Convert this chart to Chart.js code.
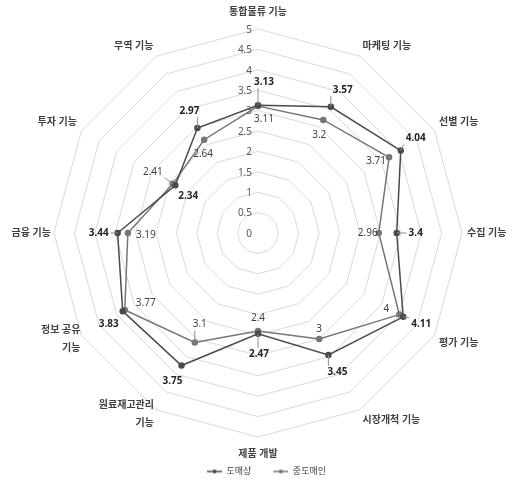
<!DOCTYPE html>
<html><head><meta charset="utf-8">
<script src="https://cdn.jsdelivr.net/npm/chart.js@4"></script>
<style>html,body{margin:0;padding:0;background:#fff}#wrap{width:513px;height:481px;position:relative}</style>
</head><body><div id="wrap"><canvas id="c"></canvas></div>
<script>
const categories = ['통합물류 기능','마케팅 기능','선별 기능','수집 기능','평가 기능','시장개척 기능','제품 개발',['원료재고관리','기능'],['정보 공유','기능'],'금융 기능','투자 기능','무역 기능'];
const seriesNames = ['도매상','중도매인'];
const wholesaler = [3.13,3.57,4.04,3.4,4.11,3.45,2.47,3.75,3.83,3.44,2.34,2.97];
const middleman = [3.11,3.2,3.71,2.96,4,3,2.4,3.1,3.77,3.19,2.41,2.64];
const tickValues = [0,0.5,1,1.5,2,2.5,3,3.5,4,4.5,5];
const tickLabels = ['0','0.5','1','1.5','2','2.5','3','3.5','4','4.5','5'];

// value-label placement (pixel offsets from each point) and leader-line flags
const offA = [[6,-23],[12,-17],[15,-12],[19,0],[18,7],[9,17],[1,20],[-9,16],[-14,13],[-19,0],[13,11],[-8,-17]];
const leadA = [1,1,1,1,1,1,1,0,0,1,0,1];
const offB = [[6,13],[-4,15],[-13,4],[-11,0],[-13,-5],[0,-10],[0,-13],[5,-18],[21,-7],[18,2],[-20,-12],[-1,14]];
const leadB = [0,0,1,0,0,0,0,1,0,0,1,0];
const labelPad = [11,5,5,5,5,5,11,5,5,3,5,5];
// two-line category labels drawn right-aligned beside their vertex: [index, dx, dy]
const wrapLabels = [[7,-2,4],[8,-1,4]];

const colA = '#4a4a4a', colB = '#767676';
const FONT = "'Noto Sans', 'Noto Sans CJK KR', sans-serif";

function marker(color){
  const c = document.createElement('canvas'); c.width = 30; c.height = 6;
  const x = c.getContext('2d');
  x.strokeStyle = color; x.lineWidth = 1.5;
  x.beginPath(); x.moveTo(15,3); x.lineTo(30,3); x.stroke();
  x.fillStyle = color; x.beginPath(); x.arc(22.5,3,2,0,Math.PI*2); x.fill();
  return c;
}
const markers = [marker(colA), marker(colB)];

const tickPlugin = {
  id: 'tickText',
  afterDatasetsDraw(chart){
    const s = chart.scales.r, ctx = chart.ctx;
    ctx.save();
    ctx.font = '10px ' + FONT; ctx.fillStyle = '#595959';
    ctx.textAlign = 'right'; ctx.textBaseline = 'middle';
    tickValues.forEach((v,i)=>{
      const d = s.getDistanceFromCenterForValue(v);
      ctx.fillText(tickLabels[i], s.xCenter - 6, s.yCenter - d + 1);
    });
    // wrapped category labels
    ctx.font = 'bold 10px ' + FONT; ctx.fillStyle = '#404040';
    wrapLabels.forEach(([idx, dx, dy])=>{
      const p = s.getPointPosition(idx, s.drawingArea);
      const lines = categories[idx];
      const lh = 18;
      lines.forEach((t, k)=>{
        ctx.fillText(t, p.x + dx, p.y + dy + (k - (lines.length - 1)/2) * lh);
      });
    });
    ctx.restore();
  }
};

const valuePlugin = {
  id: 'valueText',
  afterDatasetsDraw(chart){
    const ctx = chart.ctx;
    const cfgs = [[offA, leadA, 'bold', '#262626'], [offB, leadB, 'normal', '#404040']];
    chart.data.datasets.forEach((ds, di)=>{
      const meta = chart.getDatasetMeta(di);
      const [offs, leads, weight, color] = cfgs[di];
      meta.data.forEach((pt, i)=>{
        const txt = String(ds.data[i]);
        const lx = pt.x + offs[i][0], ly = pt.y + offs[i][1];
        ctx.save();
        ctx.font = weight + ' 10px ' + FONT;
        const w = ctx.measureText(txt).width, h = 10;
        if (leads[i]) {
          const nx = Math.max(lx - w/2 - 2, Math.min(pt.x, lx + w/2 + 2));
          const ny = Math.max(ly - h/2 - 1, Math.min(pt.y, ly + h/2 + 1));
          ctx.strokeStyle = '#8c8c8c'; ctx.lineWidth = 1;
          ctx.beginPath(); ctx.moveTo(pt.x, pt.y); ctx.lineTo(nx, ny); ctx.stroke();
        }
        ctx.fillStyle = color; ctx.textAlign = 'center'; ctx.textBaseline = 'middle';
        ctx.fillText(txt, lx, ly);
        ctx.restore();
      });
    });
  }
};

new Chart(document.getElementById('c'), {
  type: 'radar',
  data: {
    labels: categories,
    datasets: [
      {label: seriesNames[0], data: wholesaler, borderColor: colA, backgroundColor: colA, pointBackgroundColor: colA, pointBorderColor: colA, borderWidth: 1.5, pointRadius: 2.5, fill: false},
      {label: seriesNames[1], data: middleman, borderColor: colB, backgroundColor: colB, pointBackgroundColor: colB, pointBorderColor: colB, borderWidth: 1.5, pointRadius: 2.5, fill: false}
    ]
  },
  options: {
    responsive: true, maintainAspectRatio: false, animation: false,
    layout: {padding: {top: 6, left: 5, right: 0, bottom: -5}},
    plugins: {
      tooltip: {enabled: false},
      legend: {
        position: 'bottom',
        labels: {
          usePointStyle: true, pointStyleWidth: 30, boxHeight: 6, padding: 7,
          color: '#404040', font: {size: 9, family: FONT},
          generateLabels(chart){
            const items = Chart.defaults.plugins.legend.labels.generateLabels(chart);
            items.forEach((it,i)=>{ it.pointStyle = markers[i]; });
            return items;
          }
        }
      }
    },
    scales: {
      r: {
        min: 0, max: 5,
        ticks: {display: false, stepSize: 0.5},
        grid: {color: '#d9d9d9', lineWidth: 1},
        angleLines: {display: false},
        pointLabels: {
          color: (ctx)=> (ctx.index===7||ctx.index===8) ? 'rgba(0,0,0,0)' : '#404040',
          font: (ctx)=>({size: 10, weight: 'bold', family: FONT, lineHeight: (ctx.index===7||ctx.index===8) ? 1.8 : 1.2}),
          padding: (ctx)=> labelPad[ctx.index]
        }
      }
    }
  },
  plugins: [tickPlugin, valuePlugin]
});
</script>
</body></html>
